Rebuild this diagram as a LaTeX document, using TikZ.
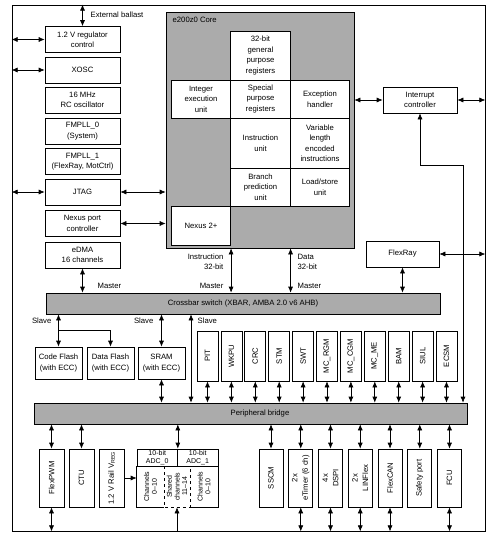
\documentclass[tikz,border=0pt]{standalone}
\usepackage{fontspec}
\setmainfont{Liberation Sans}
\usetikzlibrary{arrows.meta}

\tikzset{
  >={Latex[length=6pt,width=5pt]},
  box/.style={draw,fill=white,align=center,inner sep=1pt},
  lbox/.style={box,minimum width=75pt,minimum height=26pt},
  cell/.style={box,minimum width=59.5pt},
  mem/.style={box,minimum width=47pt,minimum height=32pt},
  vbox/.style={box,rotate=90,minimum width=50pt,minimum height=21pt},
  bbox/.style={box,rotate=90,minimum width=58pt,minimum height=25pt},
  bus/.style={draw,fill=black!33,minimum height=21pt,inner sep=0pt},
  small/.style={font=\fontsize{7}{7.6}\selectfont,inner sep=0pt,align=center}
}
\tikzstyle{every node}=[font=\fontsize{7.7}{10.5}\selectfont]

\begin{document}
\begin{tikzpicture}[x=1pt,y=-1pt,line width=0.65pt]
    \useasboundingbox (0,0) rectangle (494,535);
    \node[draw,line width=0.8pt,minimum width=473pt,minimum height=526pt,inner sep=0pt] (chip) at (248.5,268) {};

    % left column
    \node[lbox] (reg)  at (82.5,39.5)  {1.2 V regulator\\control};
    \node[lbox] (xosc) at (82.5,70)    {XOSC};
    \node[lbox] (rc)   at (82.5,100)   {16 MHz\\RC oscillator};
    \node[lbox] (pll0) at (82.5,131)   {FMPLL\_0\\(System)};
    \node[lbox] (pll1) at (82.5,161.5) {FMPLL\_1\\(FlexRay, MotCtrl)};
    \node[lbox] (jtag) at (82.5,192)   {JTAG};
    \node[lbox] (npc)  at (82.5,223.5) {Nexus port\\controller};
    \node[lbox] (edma) at (82.5,255)   {eDMA\\16 channels};

    % core
    \node[draw,fill=black!33,minimum width=188pt,minimum height=236pt] (core) at (260,130) {};
    \node[anchor=west] (corelab) at (169,20) {e200z0 Core};
    \node[cell,minimum height=49pt] (gpr)   at (260.5,55.5) {32-bit\\general\\purpose\\registers};
    \node[cell,minimum height=38pt] (ieu)   at (201,99)     {Integer\\execution\\unit};
    \node[cell,minimum height=38pt] (spr)   at (260.5,99)   {Special\\purpose\\registers};
    \node[cell,minimum height=38pt] (exc)   at (320,99)     {Exception\\handler};
    \node[cell,minimum height=50pt] (iu)    at (260.5,143)  {Instruction\\unit};
    \node[cell,minimum height=50pt] (vle)   at (320,143)    {Variable\\length\\encoded\\instructions};
    \node[cell,minimum height=38pt] (bpu)   at (260.5,187)  {Branch\\prediction\\unit};
    \node[cell,minimum height=38pt] (lsu)   at (320,187)    {Load/store\\unit};
    \node[cell,minimum height=39pt] (nexus) at (201,225.5)  {Nexus 2+};

    % right side
    \node[box,minimum width=74pt,minimum height=26pt] (ic) at (420,100)   {Interrupt\\controller};
    \node[box,minimum width=73pt,minimum height=26pt] (fr) at (402.5,254) {FlexRay};

    % buses
    \node[bus,minimum width=394pt] (xbar) at (243,303.5) {Crossbar switch (XBAR, AMBA 2.0 v6 AHB)};
    \node[bus,minimum width=433pt] (pb) at (250.5,413.5) {};
    \node (pblab) at (260,413.5) {Peripheral bridge};

    % memories
    \node[mem] (cf)   at (58.5,363)  {Code Flash\\(with ECC)};
    \node[mem] (df)   at (110.5,363) {Data Flash\\(with ECC)};
    \node[mem] (sram) at (161.5,363) {SRAM\\(with ECC)};

    % peripherals on the bridge
    \foreach \n [count=\i from 0] in {PIT,WKPU,CRC,STM,SWT,MC\_RGM,MC\_CGM,MC\_ME,BAM,SIUL,ECSM} {
      \node[vbox] (p\i) at ({207.5+23.9*\i},356) {\n};
      \draw[<->] (p\i.west) -- (p\i.west |- pb.north);
    }

    % bottom row
    \node[bbox] (pwm)  at (51.5,478)  {FlexPWM};
    \node[bbox] (ctu)  at (81.5,478)  {CTU};
    \node[bbox] (vreg) at (111.5,478) {1.2 V Rail V\textsubscript{REG}};
    \foreach \n [count=\i from 0] in {SSCM,{2x\\eTimer (6 ch)},{4x\\DSPI},{2x\\LINFlex},FlexCAN,Safety port,FCU} {
      \node[bbox,minimum height=24pt] (q\i) at ({271+29.75*\i},478) {\n};
      \draw[<->] (q\i.east) -- (q\i.east |- pb.south);
    }
    \foreach \i in {1,2,3,4,6}
      \draw[<->] (q\i.west) -- (q\i.west |- chip.south);

    % ADC
    \node[draw,small,minimum width=40.5pt,minimum height=17pt] (adc0) at (157.25,457.5) {10-bit\\ADC\_0};
    \node[draw,small,minimum width=40.5pt,minimum height=17pt] (adc1) at (197.75,457.5) {10-bit\\ADC\_1};
    \node[draw,dashed,small,rotate=90,minimum width=41pt,minimum height=26pt] (shared) at (177,486.5) {Shared\\channels\\11--14};
    \node[small,rotate=90] (ch0) at (150.5,486.5) {Channels\\0--10};
    \node[small,rotate=90] (ch1) at (204,486.5) {Channels\\0--10};
    \draw (shared.north west) -| (adc0.south west);
    \draw (shared.south west) -| (adc1.south east);

    % connectors, left
    \draw[<->] (chip.north -| reg) -- (reg);
    \node[anchor=west] (ballast) at (87,15) {External ballast};
    \foreach \b in {reg,xosc,jtag}
      \draw[<->] (chip.west |- \b) -- (\b);
    \draw[<->] (jtag) -- (jtag -| core.west);
    \draw[<->] (npc) -- (npc -| core.west);
    \draw[<->] (edma) -- (edma |- xbar.north);
    \node[anchor=west] (m1) at (94,286) {Master};

    % core to crossbar
    \draw[<->] (core.south -| nexus.east) -- (xbar.north -| nexus.east);
    \draw[<->] (core.south -| gpr.east) -- (xbar.north -| gpr.east);
    \node[anchor=east] (ilab) at (227,257) {Instruction};
    \node[anchor=east] (iw)   at (227,267) {32-bit};
    \node[anchor=east] (m2)   at (227,286) {Master};
    \node[anchor=west] (dlab) at (294,257) {Data};
    \node[anchor=west] (dw)   at (294,267) {32-bit};
    \node[anchor=west] (m3)   at (294,286) {Master};

    % interrupt controller, FlexRay
    \draw[<->] (core.east |- ic) -- (ic);
    \draw[<->] (ic) -- (ic -| chip.east);
    \coordinate (bend) at (463,165);
    \draw[<->] (ic.south) |- (bend) -- (bend |- pb.north);
    \draw[<->] (fr) -- (fr -| chip.east);
    \draw[<->] (fr) -- (fr |- xbar.north);

    % slaves
    \coordinate (split) at (58.5,330);
    \draw[<->] (xbar.south -| cf) -- (cf);
    \draw[->] (split) -| (df);
    \node[anchor=east] (s1) at (55,321) {Slave};
    \draw[<->] (xbar.south -| sram) -- (sram);
    \draw[<->] (sram) -- (sram |- pb.north);
    \node[anchor=east] (s2) at (157,321) {Slave};
    \coordinate (slv) at (191,0);
    \draw[<->] (xbar.south -| slv) -- (pb.north -| slv);
    \node[anchor=west] (s3) at (194,321) {Slave};

    % bottom connectors
    \draw[<->] (pwm.east) -- (pwm.east |- pb.south);
    \draw[<->] (ctu.east) -- (ctu.east |- pb.south);
    \draw[<->] (pwm.west) -- (pwm.west |- chip.south);
    \draw[<->] (adc0.north east) -- (adc0.north east |- pb.south);
    \draw[->] (shared.west |- chip.south) -- (shared.west);
    \draw[->] (vreg.south) -- (vreg.south -| adc0.west);
\end{tikzpicture}
\end{document}
